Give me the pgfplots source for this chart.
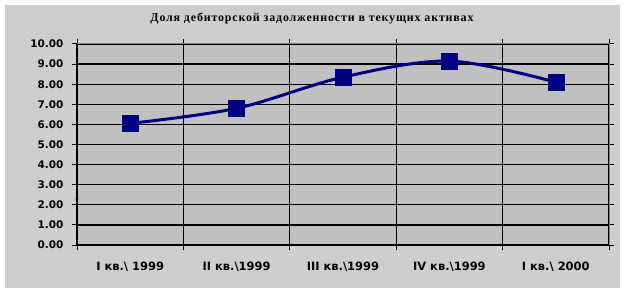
\documentclass[border=0pt]{standalone}
\usepackage{pgfplots}
\pgfplotsset{compat=1.18}
\usepackage{fontspec}
\setmainfont{DejaVu Sans}
\newfontfamily\titlefont[LetterSpace=7]{Liberation Serif}
\definecolor{chartbg}{RGB}{206,206,206}
\definecolor{plotbg}{RGB}{192,192,192}
\definecolor{navyline}{RGB}{0,0,128}
\definecolor{framegray}{RGB}{128,128,128}
\begin{document}
\begin{tikzpicture}[x=1bp,y=1bp]
\fill[white] (0,0) rectangle (625,292);
\fill[chartbg] (5,4) rectangle (620,287);
\node[font=\titlefont\bfseries\fontsize{12}{14}\selectfont] at (312,273) {Доля дебиторской задолженности в текущих активах};
\begin{axis}[
  at={(77bp,47bp)}, anchor=south west,
  width=532bp, height=201bp, scale only axis,
  xmin=0.5, xmax=5.5, ymin=0, ymax=10,
  axis background/.style={fill=plotbg},
  axis line style={draw=black, line width=1bp},
  tick align=outside,
  major tick length=5bp,
  every tick/.style={black, line width=1bp},
  xtick={0.5,1.5,...,5.5}, xticklabels={},
  ytick={0,1,...,10},
  xmajorgrids, ymajorgrids,
  major grid style={black, line width=1.2bp},
  extra x ticks={1,2,3,4,5},
  extra x tick labels={I кв.\textbackslash\ 1999, II кв.\textbackslash 1999, III кв.\textbackslash 1999, IV кв.\textbackslash 1999, I кв.\textbackslash\ 2000},
  extra x tick style={major tick length=0pt, grid=none},
  xticklabel style={font=\bfseries\fontsize{11.5}{13}\selectfont, yshift=-13bp},
  yticklabel style={font=\bfseries\fontsize{10.5}{12}\selectfont, xshift=-5bp},
  /pgf/number format/assume math mode=true,
  yticklabel={\pgfmathprintnumber[fixed,fixed zerofill,precision=2]{\tick}},
  ylabel={\%},
  ylabel style={at={(rel axis cs:0,0.5)}, anchor=center, xshift=-55bp, font=\fontsize{4}{4}\selectfont},
  clip=false,
]
\addplot[navyline, line width=3bp, smooth, tension=0.55, mark=square*, mark size=8bp,
  mark options={solid, fill=navyline, draw=navyline, line width=0.5bp}]
  coordinates {(1,6.05) (2,6.8) (3,8.35) (4,9.15) (5,8.1)};
\draw[framegray, line width=1bp] (axis cs:0.5,10) -- (axis cs:5.5,10) -- (axis cs:5.5,0);
\end{axis}
\pgfresetboundingbox
\useasboundingbox (0,0) rectangle (625,292);
\end{tikzpicture}
\end{document}
